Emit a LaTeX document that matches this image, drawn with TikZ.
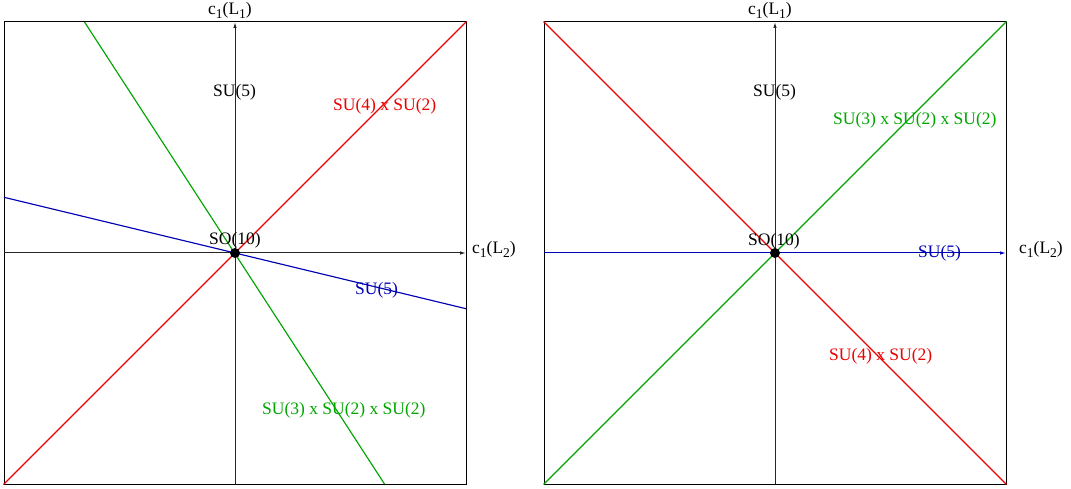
\documentclass[tikz,border=0pt]{standalone}
\usepackage{fontspec}
\setmainfont{Liberation Serif}
\usetikzlibrary{arrows.meta}
\definecolor{lred}{RGB}{235,0,0}
\definecolor{lgreen}{RGB}{0,165,0}
\definecolor{lblue}{RGB}{0,0,180}
\newcommand\sbs[1]{\raisebox{-0.45ex}{\fontsize{13.5}{14}\selectfont #1}}
\begin{document}
\begin{tikzpicture}[x=1pt,y=-1pt,
  lbl/.style={inner sep=0pt,anchor=base west,font=\fontsize{17.5}{20}\selectfont},
  frame/.style={draw=black,line width=1pt,inner sep=0pt,minimum width=462pt,minimum height=462pt},
  axis/.style={draw=black!85,line width=1pt,-{Latex[length=6pt,width=3.5pt]}},
  gline/.style={line width=1.15pt},
  dot/.style={circle,fill=black,inner sep=0pt,minimum size=10pt}]
\useasboundingbox (0,0) rectangle (1071,489);

% ---------- left panel ----------
\node[frame] (f1) at (235,253) {};
\coordinate (ax1l) at (4,253);
\coordinate (ax1r) at (466,253);
\coordinate (ay1b) at (235,484);
\coordinate (ay1t) at (235,22);
\draw[axis] (ax1l) -- (ax1r);
\draw[axis] (ay1b) -- (ay1t);
\coordinate (g1t) at (84.5,22);
\coordinate (g1b) at (384.5,484);
\coordinate (b1l) at (4,197.3);
\coordinate (b1r) at (466,308.7);
\draw[gline,lred] (f1.south west) -- (f1.north east);
\draw[gline,lgreen] (g1t) -- (g1b);
\draw[gline,lblue] (b1l) -- (b1r);
\node[dot] (o1) at (235,253) {};
\node[lbl] (c1a) at (208,15) {c\sbs{1}(L\sbs{1})};
\node[lbl] (c1b) at (472,254) {c\sbs{1}(L\sbs{2})};
\node[lbl] (su5a) at (213,97) {SU(5)};
\node[lbl,text=lred] (su4a) at (333,110.5) {SU(4) x SU(2)};
\node[lbl] (so10a) at (209,244) {SO(10)};
\node[lbl,text=lblue] (su5b) at (355,294) {SU(5)};
\node[lbl,text=lgreen] (su3a) at (262,414) {SU(3) x SU(2) x SU(2)};

% ---------- right panel ----------
\node[frame] (f2) at (775,253) {};
\coordinate (ax2l) at (544,253);
\coordinate (ax2r) at (1006,253);
\coordinate (ay2b) at (775,484);
\coordinate (ay2t) at (775,22);
\draw[axis] (ay2b) -- (ay2t);
\draw[axis,draw=lblue] (ax2l) -- (ax2r);
\draw[gline,lred] (f2.north west) -- (f2.south east);
\draw[gline,lgreen] (f2.south west) -- (f2.north east);
\node[dot] (o2) at (775,253) {};
\node[lbl] (c2a) at (748,15) {c\sbs{1}(L\sbs{1})};
\node[lbl] (c2b) at (1019,254) {c\sbs{1}(L\sbs{2})};
\node[lbl] (su5c) at (753,97) {SU(5)};
\node[lbl,text=lgreen] (su3b) at (833,125) {SU(3) x SU(2) x SU(2)};
\node[lbl] (so10b) at (748,245) {SO(10)};
\node[lbl,text=lblue] (su5d) at (918,258) {SU(5)};
\node[lbl,text=lred] (su4b) at (829,360) {SU(4) x SU(2)};
\end{tikzpicture}
\end{document}
